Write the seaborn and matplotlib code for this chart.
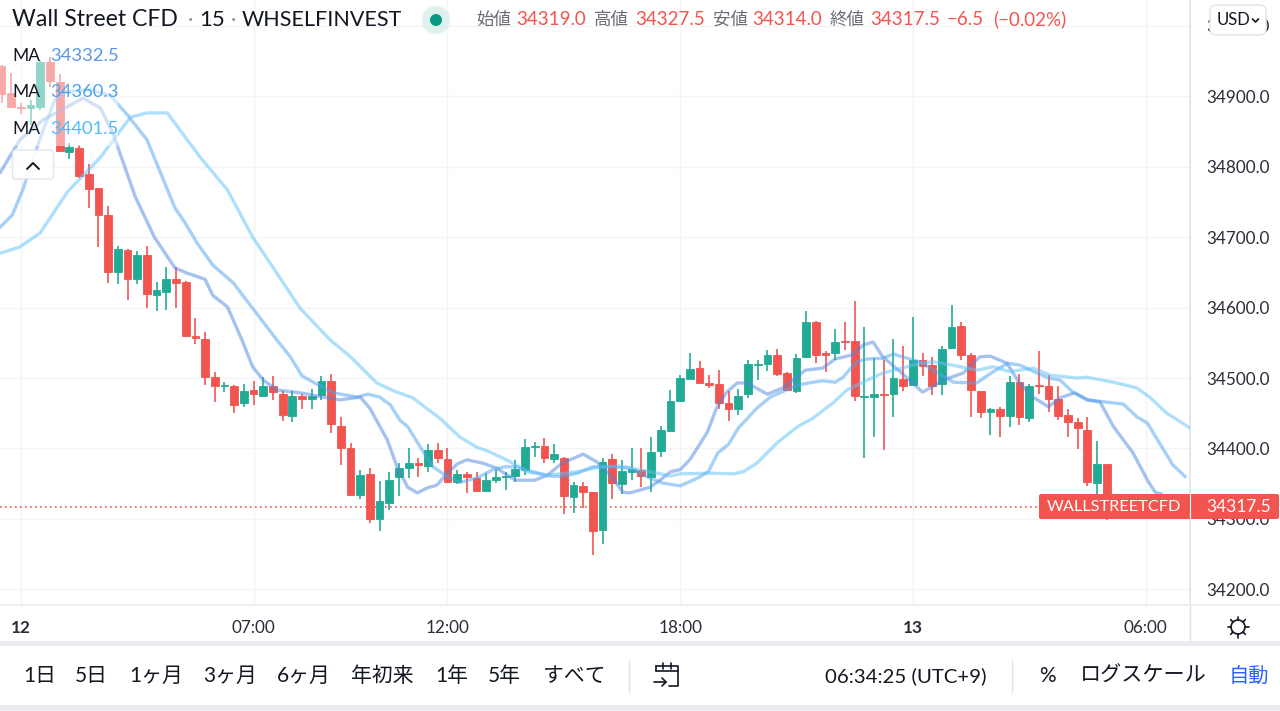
import pandas as pd
import seaborn as sns
import matplotlib.pyplot as plt
from matplotlib.patches import FancyBboxPatch, Rectangle, Circle

# candles, 15 minute bars
opens = [34942, 34904, 34885, 34883, 34885, 34948, 34920, 34821, 34826, 34790,
         34770, 34731, 34651, 34682, 34641, 34674, 34618, 34622, 34641, 34636,
         34560, 34556, 34502, 34488, 34489, 34464, 34483.5, 34475, 34488, 34478,
         34446, 34474.5, 34470, 34476, 34496, 34432, 34401, 34334, 34364, 34300,
         34323, 34359, 34372, 34379, 34375, 34398, 34385, 34353, 34364, 34358,
         34340, 34356, 34359.5, 34361, 34370, 34402.5, 34403, 34385, 34387, 34331,
         34347, 34338, 34284, 34384.5, 34350, 34367, 34370, 34359, 34396, 34425,
         34468, 34499, 34514, 34493, 34492, 34464, 34456, 34477, 34518, 34520,
         34532, 34507.5, 34481, 34530, 34580, 34536, 34535, 34552, 34552, 34473.5,
         34472.5, 34478, 34478, 34498, 34490, 34526, 34519, 34491, 34542, 34574,
         34532, 34481.5, 34452, 34455.5, 34446, 34494, 34443, 34489.5, 34489, 34470,
         34447, 34437.5, 34426, 34351, 34378]
highs = [34944, 34933, 34890, 34894, 34951, 34956, 34931, 34834, 34830, 34803,
         34770, 34744, 34687, 34683, 34680, 34687, 34636, 34657, 34658, 34638,
         34585, 34565, 34509, 34495, 34490, 34491, 34496, 34502, 34503, 34481,
         34482, 34478, 34484, 34503, 34505, 34444, 34408, 34369, 34372, 34354,
         34366, 34380, 34400, 34386.5, 34407, 34408, 34401, 34370, 34367, 34367,
         34365, 34369.5, 34367, 34384, 34413, 34409, 34415, 34406, 34388, 34352,
         34353, 34338, 34387, 34392, 34384, 34400, 34400, 34416, 34432, 34483,
         34504, 34536, 34524, 34504, 34512, 34482, 34485, 34525.5, 34525, 34540,
         34541, 34509, 34534, 34595, 34581, 34538, 34570, 34579, 34609, 34572,
         34528, 34525, 34555, 34545, 34586, 34535, 34530, 34546, 34603, 34579,
         34535, 34481.5, 34457, 34459, 34503, 34506, 34491, 34538, 34504, 34488,
         34455.5, 34443, 34445, 34410.5, 34378]
lows = [34890, 34884, 34874, 34859, 34880, 34913, 34821, 34811, 34783, 34741,
        34686, 34635, 34633, 34611, 34633, 34599, 34595, 34597, 34600, 34558,
        34548, 34490, 34466, 34480, 34450, 34459, 34461, 34474, 34469, 34439,
        34437, 34456, 34456, 34469, 34422, 34377, 34334, 34329, 34295, 34283,
        34313, 34332, 34358, 34360, 34366, 34379, 34351, 34350, 34337, 34339,
        34340, 34351, 34341, 34353, 34362, 34388, 34380, 34380, 34307, 34308,
        34316, 34249, 34265, 34328, 34336, 34355, 34346, 34339, 34388, 34424,
        34466, 34498, 34491, 34486, 34456, 34439, 34448, 34472, 34497, 34510,
        34503, 34482, 34479, 34530, 34521, 34508, 34525, 34540, 34467, 34386.5,
        34417, 34398, 34445, 34482, 34490, 34503, 34476, 34476, 34541, 34525,
        34444, 34443, 34419, 34416, 34431, 34434, 34437, 34478, 34452, 34441,
        34417, 34399, 34347, 34330, 34298]
closes = [34903, 34884, 34883, 34887, 34948, 34921, 34822, 34828, 34787, 34768,
          34731, 34651, 34683, 34640, 34674, 34619, 34625, 34641, 34635, 34560,
          34557, 34502, 34489, 34490, 34461, 34482, 34477, 34488, 34480, 34447,
          34474, 34470, 34475, 34496, 34435, 34401, 34334, 34363, 34300, 34325.5,
          34356, 34372, 34379, 34376, 34398, 34386.5, 34352.5, 34364, 34359, 34340,
          34355, 34359, 34361, 34371, 34402, 34404, 34386.5, 34392, 34333, 34348,
          34338, 34283, 34381, 34351, 34368, 34371, 34361, 34395.5, 34426, 34467,
          34499.5, 34513, 34493, 34490, 34465, 34456, 34475, 34520, 34520, 34533,
          34506, 34483, 34529, 34579, 34533, 34533, 34551.5, 34551, 34474.5, 34475,
          34478, 34476, 34500, 34489, 34526, 34517, 34489, 34541.5, 34572, 34533,
          34483, 34452, 34455.5, 34446.5, 34494, 34445, 34489, 34488, 34470, 34446.5,
          34437.5, 34429, 34352, 34378, 34319]

# moving averages, bar position and price
fast_bar = [-0.15, 1.9, 4.3, 8.4, 10.2, 11.5, 13.8, 15.8, 17.9, 19.1, 21, 21.8, 23.3, 24.8, 25.9, 27, 28.4, 30.8,
            33.2, 34.9, 37, 38, 39.8, 40.8, 41.9, 42.9, 43.9, 44.9, 46, 47, 48, 49.7, 51.1, 53, 55, 56.3, 57.8,
            60, 61.4, 62.8, 64.1, 64.8, 66.9, 68.2, 69, 70, 71, 72.8, 73.8, 74.8, 75.9, 76.9, 79, 80.6, 82.9,
            84.7, 86, 87.8, 88.9, 89.9, 90.9, 92.7, 95, 95.8, 97.1, 99.2, 100.9, 102, 103.7, 105, 106.4, 108,
            109.2, 110.7, 112, 113.3, 114.7, 116.7, 118.2, 119, 119.7]
fast_ma = [34791, 34838, 34866, 34897, 34883, 34847, 34757, 34699, 34656, 34649, 34640, 34617, 34601, 34554, 34516,
           34497, 34483, 34479, 34473, 34469, 34473, 34457, 34412, 34374, 34345, 34337, 34344, 34348, 34365, 34378,
           34384, 34379, 34372, 34355, 34355, 34362, 34379, 34392, 34381, 34362, 34338, 34337, 34345, 34358, 34367,
           34370, 34384, 34423, 34459, 34480, 34493, 34493, 34477, 34486, 34511, 34514, 34527, 34533, 34547, 34551,
           34530, 34509, 34480, 34486, 34497, 34507, 34530, 34531, 34521, 34493, 34473, 34459, 34472, 34479, 34469,
           34466, 34431, 34394, 34355, 34338, 34335]
mid_bar = [-0.15, 1.1, 2.2, 3.2, 4.3, 5.5, 6.5, 9.1, 11.2, 13, 15, 17.9, 18.9, 20.2, 21.8, 23.9, 25.9, 28.4, 29.8,
           31, 32.3, 34.2, 36.7, 37.8, 39, 40.1, 41.1, 41.9, 43.2, 44.5, 46, 47.3, 49, 50.7, 51.9, 53.2, 54.8,
           56.6, 57.8, 59.4, 61, 62.8, 64.8, 66.9, 68.2, 70, 71.8, 72.9, 73.9, 75, 76, 77.9, 79.3, 82.1, 83.7,
           84.7, 86, 86.8, 88.2, 89.3, 90.9, 92, 92.9, 94.7, 96.1, 98.2, 100.6, 102.3, 103.8, 105.1, 106.8, 108,
           109.2, 110.5, 112, 115.7, 117.1, 118.2, 120.8, 122.1]
mid_ma = [34714, 34731, 34767, 34809, 34852, 34894, 34906, 34909, 34901, 34873, 34838, 34741, 34721, 34691, 34660,
          34635, 34599, 34554, 34530, 34503, 34493, 34479, 34473, 34477, 34473, 34462, 34440, 34431, 34402, 34374,
          34360, 34352, 34358, 34370, 34374, 34374, 34367, 34361, 34360, 34365, 34374, 34374, 34372, 34358, 34351,
          34347, 34358, 34367, 34394, 34406, 34429, 34457, 34473, 34490, 34494, 34496, 34494, 34501, 34523, 34527,
          34528, 34534, 34530, 34523, 34511, 34494, 34493, 34509, 34521, 34518, 34507, 34500, 34497, 34480, 34469,
          34463, 34445, 34436, 34377, 34360]
slow_bar = [-0.15, 1.9, 4, 6.8, 10.2, 13.3, 15, 17.1, 20.5, 23.3, 25.9, 28, 30.8, 33.9, 36, 38.7, 40.4, 42.4, 45.2,
            47.3, 49, 50.4, 52.5, 54.2, 56.3, 59.4, 61.7, 63.8, 65.1, 67.6, 69, 70, 73.1, 75.5, 76.5, 77.9, 80,
            82.1, 83.7, 85.8, 87.2, 89.3, 90.9, 93.4, 94.7, 96.1, 98.2, 100.6, 102.3, 104, 106.4, 108.2, 110.9,
            112, 114.7, 117.1, 118.5, 120.2, 122.6]
slow_ma = [34677, 34686, 34706, 34764, 34813, 34870, 34876, 34876, 34813, 34767, 34700, 34657, 34599, 34554, 34530,
           34493, 34482, 34472, 34443, 34416, 34402, 34395, 34381, 34367, 34362, 34367, 34374, 34375, 34372, 34365,
           34361, 34364, 34365, 34364, 34367, 34379, 34408, 34431, 34443, 34465, 34483, 34497, 34507, 34516, 34521,
           34523, 34518, 34511, 34516, 34509, 34514, 34504, 34500, 34501, 34494, 34486, 34472, 34450, 34429]

price_ticks = [34200, 34300, 34400, 34500, 34600, 34700, 34800, 34900, 35000]
time_ticks = [2, 26, 46, 70, 94, 118]
time_labels = ["12", "07:00", "12:00", "18:00", "13", "06:00"]
last_price = 34317.5
legend_values = ["34332.5", "34360.3", "34401.5"]
range_buttons = ["1日", "5日", "1ヶ月", "3ヶ月", "6ヶ月", "年初来", "1年", "5年", "すべて"]

UP = "#22ab94"
DOWN = "#f2544f"
GRID = "#f3f4f6"
BORDER = "#e0e3eb"
INK = "#2a2e39"
DARK = "#131722"

sns.set_theme(style="white")
plt.rcParams['font.family'] = ['Lato', 'Noto Sans CJK JP', 'DejaVu Sans']

df = pd.DataFrame({'open': opens, 'high': highs, 'low': lows, 'close': closes})
df['bar'] = df.index
df['bottom'] = df[['open', 'close']].min(axis=1)
df['size'] = (df['open'] - df['close']).abs()
df['color'] = [UP if c >= o else DOWN for o, c in zip(opens, closes)]

fig = plt.figure(figsize=(12.8, 7.11), dpi=100)

# price pane, 1190x605 px at the top left
ax = fig.add_axes([0, 1 - 605 / 711, 1190 / 1280, 605 / 711])
ax.vlines(df['bar'], df['low'], df['high'], colors=df['color'], linewidth=1.2, zorder=3)
ax.bar(df['bar'], df['size'], bottom=df['bottom'], width=0.8, color=df['color'], edgecolor=df['color'],
       linewidth=0.6, zorder=4)

sns.lineplot(x=fast_bar, y=fast_ma, ax=ax, color="#4f86de", alpha=0.5, linewidth=2.4, sort=False,
             estimator=None, zorder=5, solid_joinstyle='round')
sns.lineplot(x=mid_bar, y=mid_ma, ax=ax, color="#4ea3ec", alpha=0.5, linewidth=2.4, sort=False,
             estimator=None, zorder=6, solid_joinstyle='round')
sns.lineplot(x=slow_bar, y=slow_ma, ax=ax, color="#5fc2fa", alpha=0.5, linewidth=2.4, sort=False,
             estimator=None, zorder=7, solid_joinstyle='round')
ax.axhline(last_price, color=DOWN, linewidth=1.2, linestyle=(0, (1, 2)), zorder=2)

ax.set_xlim(-0.155, 122.59)
ax.set_ylim(34178.0, 35036.2)
ax.set_yticks(price_ticks, [f"{p:.1f}" for p in price_ticks])
ax.set_xticks(time_ticks, time_labels)
ax.yaxis.tick_right()
ax.tick_params(axis='y', length=0, pad=12, labelsize=12.3, labelcolor=INK)
ax.tick_params(axis='x', length=0, pad=11, labelsize=12.3, labelcolor=INK)
for lab in ax.get_xticklabels():
    if lab.get_text() in ("12", "13"):
        lab.set_fontweight('bold')
ax.grid(True, color=GRID, linewidth=1)
ax.set_axisbelow(True)
for side in ['top', 'left']:
    ax.spines[side].set_visible(False)
ax.spines['right'].set_color(BORDER)
ax.spines['bottom'].set_color(BORDER)
ax.set_xlabel("")
ax.set_ylabel("")

# overlay in pixels for the trading view furniture
ui = fig.add_axes([0, 0, 1, 1], zorder=10)
ui.set_xlim(0, 1280)
ui.set_ylim(711, 0)
ui.axis('off')
ui.patch.set_alpha(0)

# legend veil over the first candles
ui.add_patch(Rectangle((0, 42), 118, 104, facecolor='white', alpha=0.5, edgecolor='none'))


def label(x, y, s, size=12.5, color=INK, ha='left', va='center', **kw):
    ui.text(x, y, s, fontsize=size, color=color, ha=ha, va=va, **kw)


label(12, 26, "Wall Street CFD", size=16.6, color=DARK, va='baseline')
label(188, 26, "·", size=15, color="#9598a1", va='baseline')
label(199, 26, "15", size=16, color=DARK, va='baseline')
label(231, 26, "·", size=15, color="#9598a1", va='baseline')
label(242, 26, "WHSELFINVEST", size=15.5, color=DARK, va='baseline')

ui.add_patch(Circle((436, 20), 14, facecolor="#dff1ef", edgecolor='none'))
ui.add_patch(Circle((436, 20), 6, facecolor="#089981", edgecolor='none'))

header = [(476, "始値", "#6a6d78", 12.6), (516, "34319.0", DOWN, 13.5), (594, "高値", "#6a6d78", 12.6),
          (635, "34327.5", DOWN, 13.5), (713, "安値", "#6a6d78", 12.6), (752, "34314.0", DOWN, 13.5),
          (830, "終値", "#6a6d78", 12.6), (870, "34317.5", DOWN, 13.5), (947, "−6.5", DOWN, 13.5),
          (993, "(−0.02%)", DOWN, 13.5)]
for x, s, c, size in header:
    label(x, 25, s, size=size, color=c, va='baseline')

ui.add_patch(FancyBboxPatch((1210, 5), 56, 30, boxstyle="round,pad=0,rounding_size=6", facecolor='white',
                            edgecolor=BORDER, linewidth=1))
label(1217, 20, "USD", size=12, color=DARK)
ui.plot([1252.5, 1255.5, 1258.5], [19, 22, 19], color=DARK, linewidth=1.2)

for y, s, c in zip([56, 92, 129], legend_values, ["#5a96e8", "#4aa3ee", "#4dbcfb"]):
    label(12, y, "MA", size=12.5, color=DARK)
    label(50, y, s, size=13.2, color=c)

ui.add_patch(FancyBboxPatch((12.5, 150), 41, 29, boxstyle="round,pad=0,rounding_size=3", facecolor='white',
                            edgecolor=BORDER, linewidth=1, alpha=0.9))
ui.plot([27, 33, 39], [169, 163, 169], color=DARK, linewidth=1.4)

# last price tag
ui.add_patch(FancyBboxPatch((1039, 494), 240, 25, boxstyle="round,pad=0,rounding_size=2", facecolor=DOWN,
                            edgecolor='none'))
ui.plot([1190, 1190], [494, 519], color='white', linewidth=0.8)
label(1047, 507, "WALLSTREETCFD", size=11.7, color='white')
label(1206, 507, "34317.5", size=12.5, color='white')

# separators and bands
ui.add_patch(Rectangle((0, 604), 1280, 2, facecolor="#eceef3", edgecolor='none'))
ui.add_patch(Rectangle((0, 641), 1280, 5, facecolor="#e9ebf1", edgecolor='none'))
ui.add_patch(Rectangle((0, 705), 1280, 6, facecolor="#e9ebf1", edgecolor='none'))
ui.plot([1190, 1190], [605, 641], color=BORDER, linewidth=1)
ui.plot([629, 629], [660, 692], color=BORDER, linewidth=1)
ui.plot([1012, 1012], [660, 692], color=BORDER, linewidth=1)

# gear icon
ui.add_patch(Circle((1238, 627), 7, facecolor='white', edgecolor=DARK, linewidth=1.2))
for dx, dy in [(0, -1), (0, 1), (1, 0), (-1, 0), (.7, .7), (-.7, .7), (.7, -.7), (-.7, -.7)]:
    ui.plot([1238 + 7 * dx, 1238 + 10.5 * dx], [627 + 7 * dy, 627 + 10.5 * dy], color=DARK, linewidth=1.2)

# range bar
for x, s in zip([23, 75, 129, 203, 277, 351, 435, 488, 543], range_buttons):
    label(x, 682, s, size=15, color=DARK, va='baseline')

# calendar icon
ui.plot([656, 678, 678, 669], [671, 671, 686, 686], color=DARK, linewidth=1.2)
ui.plot([656, 656], [671, 666], color=DARK, linewidth=1.2)
ui.plot([656, 678, 678], [666, 666, 671], color=DARK, linewidth=1.2)
ui.plot([663, 663], [663, 669], color=DARK, linewidth=1.2)
ui.plot([671, 671], [663, 669], color=DARK, linewidth=1.2)
ui.plot([654, 666], [682, 682], color=DARK, linewidth=1.2)
ui.plot([662, 666, 662], [678, 682, 686], color=DARK, linewidth=1.2)

label(825, 682, "06:34:25 (UTC+9)", size=14.7, color=DARK, va='baseline')
label(1039, 682, "%", size=15, color=DARK, va='baseline')
label(1080, 682, "ログスケール", size=15.2, color=DARK, va='baseline')
label(1229, 682, "自動", size=14.6, color="#2962ff", va='baseline')

fig.savefig("out.png", dpi=100)
